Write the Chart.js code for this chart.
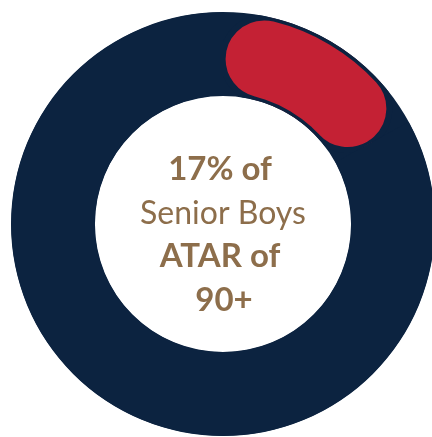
<!DOCTYPE html>
<html>
<head>
<meta charset="utf-8">
<script src="https://cdn.jsdelivr.net/npm/chart.js@4/dist/chart.umd.min.js"></script>
<style>
  html, body { margin: 0; padding: 0; background: #fff; overflow: hidden; }
  #wrap { position: absolute; left: 0; top: 0; width: 440px; height: 440px; }
</style>
</head>
<body>
<div id="wrap"><canvas id="atarChart" width="440" height="440"></canvas></div>
<script>
// data
const labels = ['ATAR 90+', 'Other Senior Boys'];
const values = [17, 83];
const colors = ['#c42134', '#0c2340'];
const centerLines = ['17% of', 'Senior Boys', 'ATAR of', '90+'];
const centerBold = [true, false, true, true];

const NAVY = '#0c2340';
const GOLD = '#8d6e4b';

// full navy ring behind the slices, so the rounded red ends sit on navy
const ringBackground = {
  id: 'ringBackground',
  beforeDatasetsDraw(chart) {
    const arc = chart.getDatasetMeta(0).data[0];
    if (!arc) return;
    const { x, y, innerRadius, outerRadius } = arc.getProps(['x', 'y', 'innerRadius', 'outerRadius'], true);
    const ctx = chart.ctx;
    ctx.save();
    ctx.beginPath();
    ctx.arc(x, y, outerRadius, 0, Math.PI * 2);
    ctx.arc(x, y, innerRadius, 0, Math.PI * 2, true);
    ctx.fillStyle = NAVY;
    ctx.fill();
    ctx.restore();
  }
};

// text in the hole
const centerText = {
  id: 'centerText',
  afterDraw(chart) {
    const arc = chart.getDatasetMeta(0).data[0];
    const { x, y } = arc.getProps(['x', 'y'], true);
    const ctx = chart.ctx;
    ctx.save();
    ctx.fillStyle = GOLD;
    ctx.textAlign = 'center';
    ctx.textBaseline = 'alphabetic';
    const lineGap = 43.5;
    const firstBaseline = y - 44;
    centerLines.forEach((line, i) => {
      ctx.font = centerBold[i] ? 'bold 33px Lato, sans-serif' : '32px Lato, sans-serif';
      const dx = i === 3 ? 1 : (i === 1 ? 0 : -3);
      ctx.fillText(line, x + dx, firstBaseline + i * lineGap);
    });
    ctx.restore();
  }
};

const ctx = document.getElementById('atarChart').getContext('2d');
new Chart(ctx, {
  type: 'doughnut',
  data: {
    labels: labels,
    datasets: [
      {
        data: values,
        backgroundColor: colors,
        borderColor: NAVY,
        borderWidth: [3, 0],
        borderAlign: 'inner',
        borderRadius: [200, 0],
      },
    ],
  },
  options: {
    responsive: false,
    animation: false,
    cutout: '60.4%',
    layout: { padding: { left: 11, top: 12, right: 5, bottom: 4 } },
    plugins: {
      legend: { display: false },
      tooltip: { enabled: false },
    },
  },
  plugins: [ringBackground, centerText],
});
</script>
</body>
</html>
